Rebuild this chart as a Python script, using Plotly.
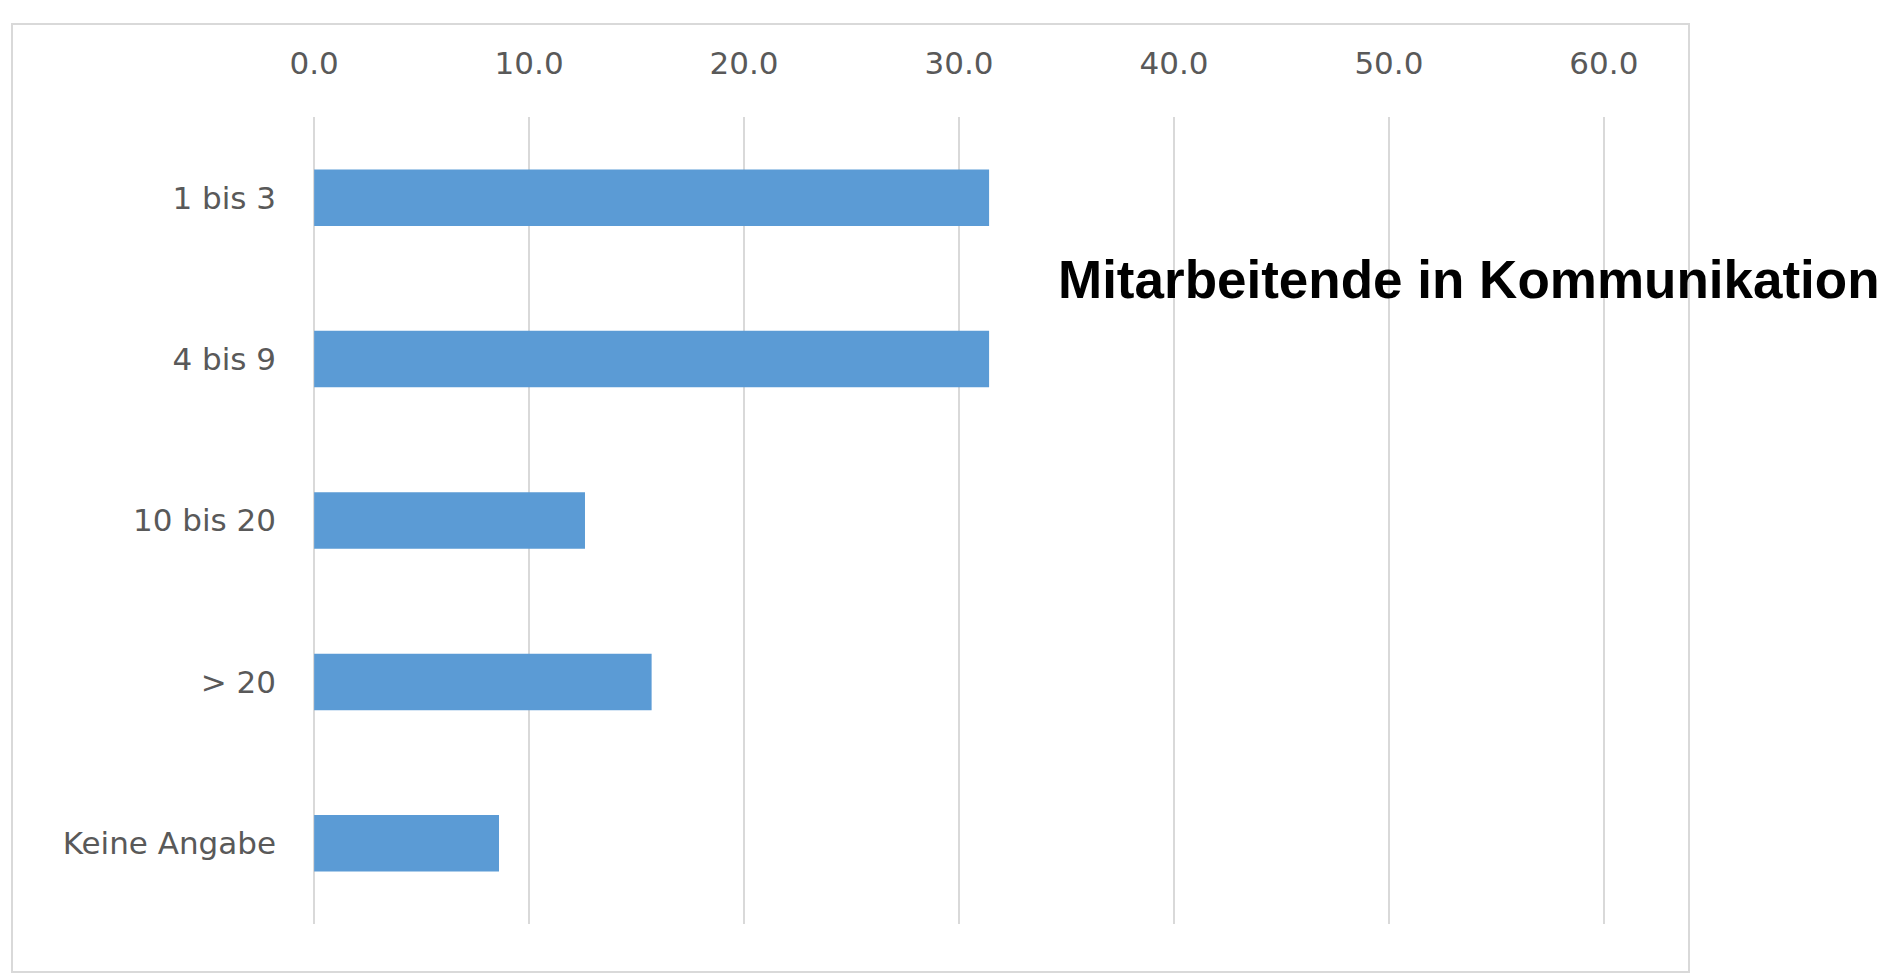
import plotly.graph_objects as go

# Mitarbeitende in Kommunikation – Anteile in %
categories = ["1 bis 3", "4 bis 9", "10 bis 20", "> 20", "Keine Angabe"]
values = [31.4, 31.4, 12.6, 15.7, 8.6]
x_ticks = [0, 10, 20, 30, 40, 50, 60]
x_tick_labels = ["0.0", "10.0", "20.0", "30.0", "40.0", "50.0", "60.0"]
title_text = "Mitarbeitende in Kommunikation"

FIG_W, FIG_H = 1888, 973
M_L, M_R, M_T, M_B = 312, 282, 117, 49
PLOT_W = FIG_W - M_L - M_R
PLOT_H = FIG_H - M_T - M_B


def paper_x(px):
    return (px - M_L) / PLOT_W


def paper_y(py):
    return (FIG_H - M_B - py) / PLOT_H


BAR_COLOR = "#5b9bd5"
GRID_COLOR = "#d9d9d9"
TEXT_COLOR = "#595959"
TICK_FONT = dict(family="DejaVu Sans", size=31, color=TEXT_COLOR)

fig = go.Figure(
    go.Bar(
        x=values,
        y=categories,
        orientation="h",
        marker=dict(color=BAR_COLOR, line=dict(width=0)),
        hoverinfo="x+y",
    )
)

fig.update_layout(
    width=FIG_W,
    height=FIG_H,
    margin=dict(l=M_L, r=M_R, t=M_T, b=M_B, pad=0),
    paper_bgcolor="white",
    plot_bgcolor="white",
    bargap=0.65,
    showlegend=False,
    xaxis=dict(
        side="top",
        range=[-0.1, 60.1],
        tickmode="array",
        tickvals=x_ticks,
        ticktext=x_tick_labels,
        showgrid=True,
        gridcolor=GRID_COLOR,
        gridwidth=2,
        zeroline=False,
        showline=False,
        ticks="",
        tickfont=TICK_FONT,
        ticklabelstandoff=36,
        fixedrange=True,
    ),
    yaxis=dict(
        categoryorder="array",
        categoryarray=categories,
        autorange="reversed",
        showgrid=False,
        zeroline=False,
        showline=False,
        ticks="",
        tickfont=TICK_FONT,
        ticklabelstandoff=35,
        fixedrange=True,
    ),
    shapes=[
        dict(
            type="rect",
            xref="paper",
            yref="paper",
            x0=paper_x(12),
            x1=paper_x(1689),
            y0=paper_y(972),
            y1=paper_y(24),
            line=dict(color=GRID_COLOR, width=2),
            fillcolor="rgba(0,0,0,0)",
            layer="below",
        )
    ],
    annotations=[
        dict(
            text=title_text,
            xref="paper",
            yref="paper",
            x=paper_x(1056),
            y=paper_y(279),
            xanchor="left",
            yanchor="middle",
            showarrow=False,
            font=dict(family="Liberation Sans", size=53, color="black", weight="bold"),
        )
    ],
)

fig.write_html("out.html")
